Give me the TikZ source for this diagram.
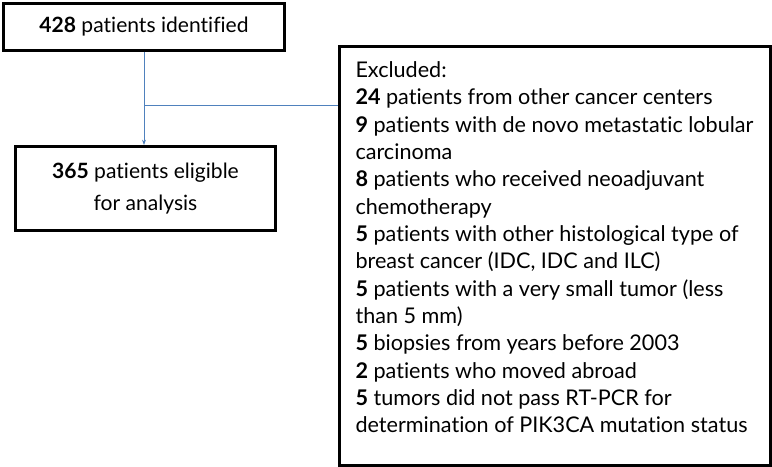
\documentclass[tikz,border=0pt]{standalone}
\usepackage{fontspec}
\setmainfont{Lato}[Ligatures=NoCommon]
\usetikzlibrary{arrows.meta}

\tikzset{every picture/.style={line width=0.75pt}}
\tikzset{
  flowbox/.style={draw, line width=2.25pt, align=center, inner sep=0pt, anchor=north west},
  conn/.style={color={rgb, 255:red, 79; green, 129; blue, 189}, line width=0.75pt}
}

\begin{document}
\begin{tikzpicture}[x=0.75pt,y=0.75pt,yscale=-1,xscale=1]
\useasboundingbox (0,0) rectangle (772,467);

% Boxes
\node [flowbox, minimum width=281*0.75pt, minimum height=47*0.75pt, font=\fontsize{15.8}{20}\selectfont] (ident) at (2,2) {\textbf{428} patients identified};
\node [flowbox, minimum width=260*0.75pt, minimum height=84*0.75pt, font=\fontsize{15.8}{24}\selectfont] (elig) at (14,145) {\textbf{365} patients eligible\\for analysis};
\node [flowbox, minimum width=431*0.75pt, minimum height=419*0.75pt] (excl) at (338,45) {};

% Text Node
\node [anchor=north west, inner sep=0pt, align=left, font=\fontsize{16.2}{20.5}\selectfont] (excltext) at (355,61) {Excluded:\\
\textbf{24} patients from other cancer centers\\
\textbf{9} patients with de novo metastatic lobular\\
carcinoma\\
\textbf{8} patients who received neoadjuvant\\
chemotherapy\\
\textbf{5} patients with other histological type of\\
breast cancer (IDC, IDC and ILC)\\
\textbf{5} patients with a very small tumor (less\\
than 5 mm)\\
\textbf{5} biopsies from years before 2003\\
\textbf{2} patients who moved abroad\\
\textbf{5} tumors did not pass RT-PCR for\\
determination of PIK3CA mutation status};

% Connectors
\draw [conn, -{Stealth[length=4pt, width=3pt]}] (ident.south) -- (ident.south |- elig.north);
\coordinate (split) at (ident.south |- 0,106);
\draw [conn] (split) -- (split -| excl.west);

\end{tikzpicture}
\end{document}
